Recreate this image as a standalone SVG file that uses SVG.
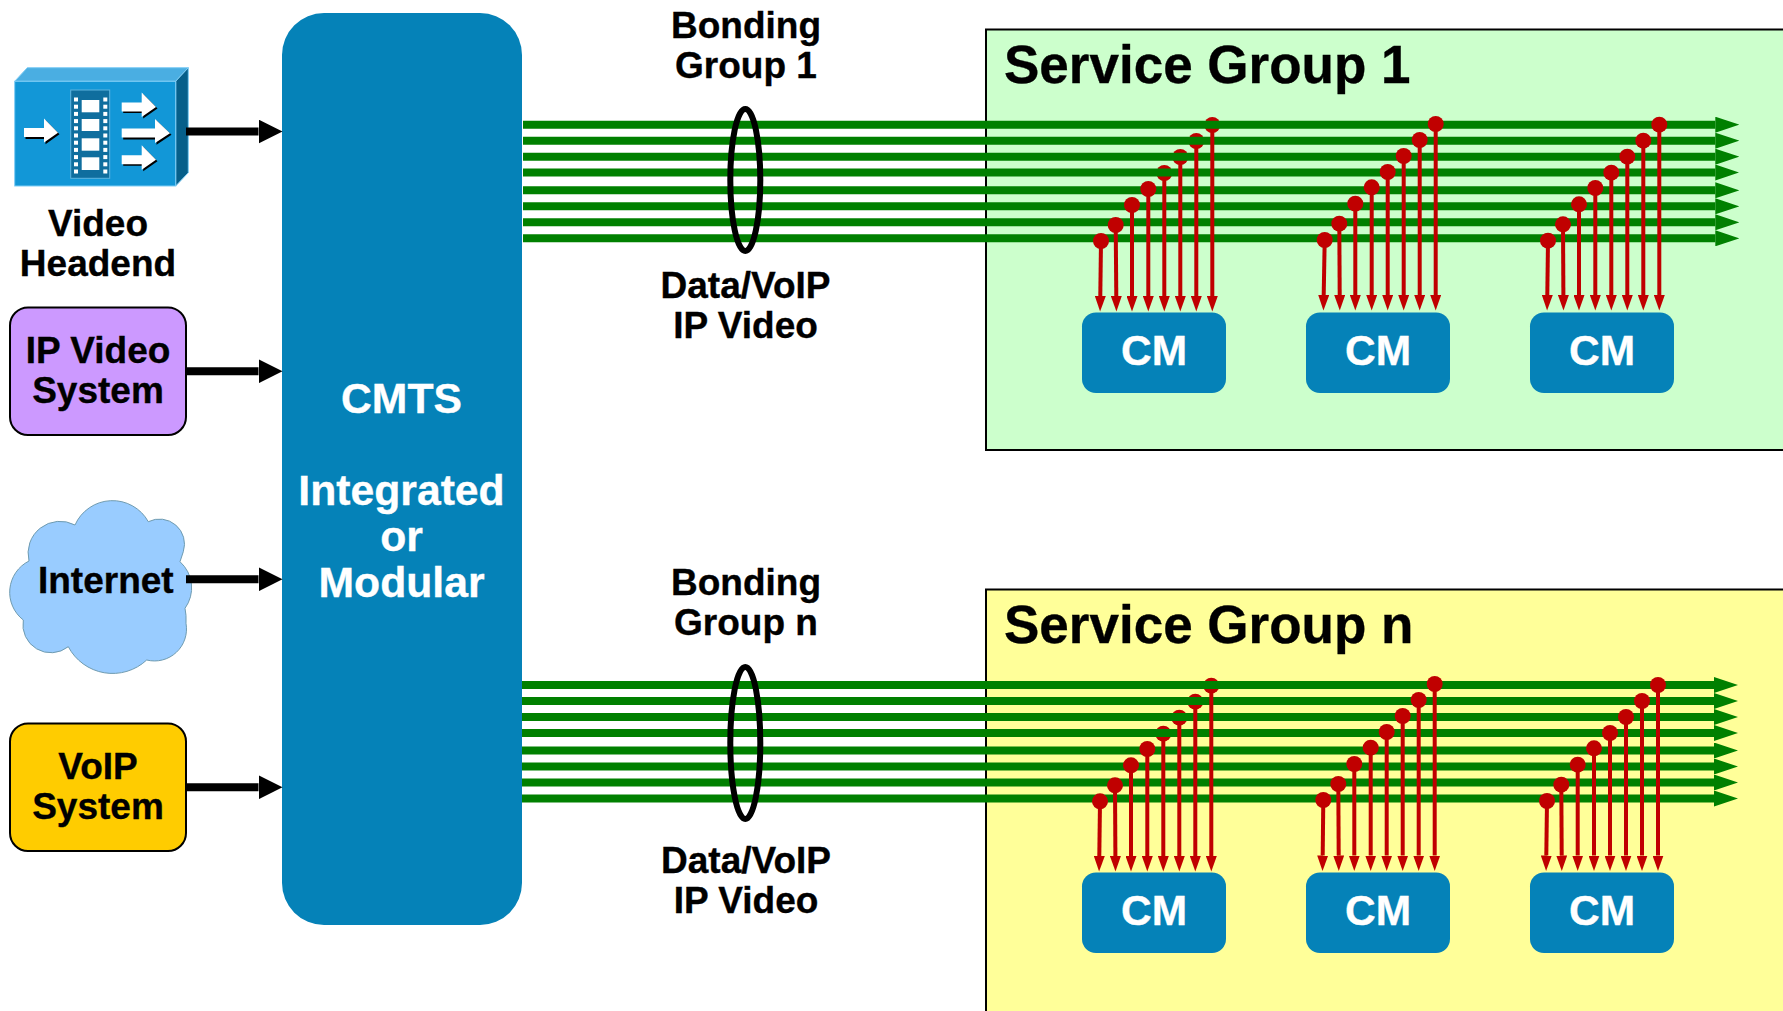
<svg xmlns="http://www.w3.org/2000/svg" width="1783" height="1011" viewBox="0 0 1783 1011">
<style>
text{font-family:"Liberation Sans",Arial,sans-serif;font-weight:bold;text-anchor:middle;fill:#000;stroke:#000;stroke-width:.35px}
.t36{font-size:37px}
.w{fill:#fff;stroke:#fff}
.t42{font-size:42.700px}
.cmt{font-size:42.500px}
.sg{font-size:53px;text-anchor:start}
.cmb{fill:#0582b8}
.g{stroke:#008000;stroke-width:8;fill:none;marker-end:url(#gh)}
.r{stroke:#c00000;stroke-width:4;fill:none;marker-end:url(#rh)}
.d{fill:#c00000}
.b{stroke:#000;stroke-width:8;fill:none;marker-end:url(#bh)}
.sgb{stroke:#000;stroke-width:2}
.box{stroke:#000;stroke-width:2}
.ell{fill:none;stroke:#000;stroke-width:6}
.hole{fill:#fff}
</style>
<defs>
<marker id="gh" markerUnits="userSpaceOnUse" markerWidth="24" markerHeight="16" refX="0" refY="8" orient="auto"><path d="M0 0L24 8L0 16Z" fill="#008000"/></marker>
<marker id="rh" markerUnits="userSpaceOnUse" markerWidth="16" markerHeight="11" refX="0" refY="5.500" orient="auto"><path d="M0 0L15.500 5.500L0 11Z" fill="#c00000"/></marker>
<marker id="bh" markerUnits="userSpaceOnUse" markerWidth="24" markerHeight="24" refX="0" refY="12" orient="auto"><path d="M0 0L24 12L0 24Z" fill="#000"/></marker>
</defs>
<rect width="1783" height="1011" fill="#fff"/>

<g id="service-group-1">
<rect class="sgb" x="986" y="29.500" width="810" height="420.500" fill="#ccffcc"/>
<text class="sg" x="1004" y="83">Service Group 1</text>
</g>
<g id="service-group-n">
<rect class="sgb" x="986" y="589.500" width="810" height="440" fill="#ffff99"/>
<text class="sg" x="1004" y="642.500">Service Group n</text>
</g>

<g id="video-headend">
<path d="M14.700 81.300L27.300 67.700H188.300L175.700 81.300Z" fill="#4aaee2" stroke="#7fcdf5" stroke-width="1"/>
<path d="M175.700 81.300L188.300 67.700V172.700L175.700 186Z" fill="#065f8a" stroke="#7fcdf5" stroke-width="1"/>
<rect x="14.700" y="81.300" width="161" height="104.700" fill="#1297d7" stroke="#7fcdf5" stroke-width="1"/>
<rect x="70.700" y="90" width="39" height="88.300" fill="#0f6e9e" stroke="#5fb4de" stroke-width="1"/>
<g class="hole">
<rect x="74" y="97.500" width="4" height="4"/><rect x="74" y="104.700" width="4" height="4"/><rect x="74" y="111.900" width="4" height="4"/><rect x="74" y="119.100" width="4" height="4"/><rect x="74" y="126.300" width="4" height="4"/><rect x="74" y="133.500" width="4" height="4"/><rect x="74" y="140.700" width="4" height="4"/><rect x="74" y="147.900" width="4" height="4"/><rect x="74" y="155.100" width="4" height="4"/><rect x="74" y="162.300" width="4" height="4"/><rect x="74" y="169.500" width="4" height="4"/>
<rect x="103.300" y="97.500" width="4" height="4"/><rect x="103.300" y="104.700" width="4" height="4"/><rect x="103.300" y="111.900" width="4" height="4"/><rect x="103.300" y="119.100" width="4" height="4"/><rect x="103.300" y="126.300" width="4" height="4"/><rect x="103.300" y="133.500" width="4" height="4"/><rect x="103.300" y="140.700" width="4" height="4"/><rect x="103.300" y="147.900" width="4" height="4"/><rect x="103.300" y="155.100" width="4" height="4"/><rect x="103.300" y="162.300" width="4" height="4"/><rect x="103.300" y="169.500" width="4" height="4"/>
<rect x="81.700" y="100" width="17.600" height="12.300"/><rect x="81.700" y="119" width="17.600" height="12"/><rect x="81.700" y="138.300" width="17.600" height="12.400"/><rect x="81.700" y="157.300" width="17.600" height="12.700"/>
</g>
<path d="M25.500 130H45.500V120L59.500 134.200L45.500 144.200V139H25.500Z" fill="#000"/>
<path d="M24 128H44V118.500L58 132.700L44 142.500V137H24Z" fill="#fff"/>
<path d="M123.200 104H143.200V94L157.500 108.500L143.200 118.500V113H123.200Z" fill="#000"/>
<path d="M121.700 102.500H141.700V92.500L156 107L141.700 117V111.500H121.700Z" fill="#fff"/>
<path d="M123.200 130.500H156.500V120.500L171.500 134.700L156.500 144.700V139.500H123.200Z" fill="#000"/>
<path d="M121.700 128.500H155V119L170 133.200L155 143V137.500H121.700Z" fill="#fff"/>
<path d="M123.200 156.700H143.200V146.700L157.500 161.200L143.200 171.200V165.700H123.200Z" fill="#000"/>
<path d="M121.700 155.200H141.700V145.200L156 159.700L141.700 169.700V164.200H121.700Z" fill="#fff"/>
<text class="t36" x="98" y="236">Video</text>
<text class="t36" x="98" y="276">Headend</text>
</g>

<g id="ip-video-system">
<rect class="box" x="10" y="307.500" width="176" height="127.500" rx="18" fill="#cc99ff"/>
<text class="t36" x="98" y="362.500">IP Video</text>
<text class="t36" x="98" y="402.500">System</text>
</g>

<g id="internet">
<path d="M75 525A41 41 0 0 1 148.300 521.700A25 25 0 0 1 183.300 551.700L180 561.700A35 35 0 0 1 185 608.300Q186.500 615 186 623.300A32 32 0 0 1 146.700 660A50 50 0 0 1 68.300 646.700A28 28 0 0 1 23.300 620A35 35 0 0 1 29 561A32 32 0 0 1 75 525Z" fill="#99ccff" stroke="#6f9bb0" stroke-width="1"/>
<text class="t36" x="105.800" y="593">Internet</text>
</g>

<g id="voip-system">
<rect class="box" x="10" y="723.500" width="176" height="127.500" rx="18" fill="#ffcc00"/>
<text class="t36" x="98" y="778.500">VoIP</text>
<text class="t36" x="98" y="818.500">System</text>
</g>

<g id="cmts">
<rect class="cmb" x="282" y="13" width="240" height="912" rx="42"/>
<text class="t42 w" x="401.500" y="412.500">CMTS</text>
<text class="t42 w" x="401.500" y="504.500">Integrated</text>
<text class="t42 w" x="401.500" y="550.500">or</text>
<text class="t42 w" x="401.500" y="596.500">Modular</text>
</g>

<g id="cm-1-1"><rect class="cmb" x="1082" y="312.500" width="144" height="80.500" rx="14"/><text class="cmt w" x="1154" y="365">CM</text></g>
<g id="cm-1-2"><rect class="cmb" x="1306" y="312.500" width="144" height="80.500" rx="14"/><text class="cmt w" x="1378" y="365">CM</text></g>
<g id="cm-1-3"><rect class="cmb" x="1530" y="312.500" width="144" height="80.500" rx="14"/><text class="cmt w" x="1602" y="365">CM</text></g>
<g id="cm-n-1"><rect class="cmb" x="1082" y="872.500" width="144" height="80.500" rx="14"/><text class="cmt w" x="1154" y="925">CM</text></g>
<g id="cm-n-2"><rect class="cmb" x="1306" y="872.500" width="144" height="80.500" rx="14"/><text class="cmt w" x="1378" y="925">CM</text></g>
<g id="cm-n-3"><rect class="cmb" x="1530" y="872.500" width="144" height="80.500" rx="14"/><text class="cmt w" x="1602" y="925">CM</text></g>

<g id="connectors">
<path class="b" d="M186 131.500H258.500"/>
<path class="b" d="M186 371.300H258.500"/>
<path class="b" d="M186 579.300H258.500"/>
<path class="b" d="M186 787.300H258.500"/>

<!-- dots lying beneath the channels -->
<circle class="d" cx="1212.300" cy="125" r="8"/><circle class="d" cx="1196.300" cy="141" r="8"/><circle class="d" cx="1180.300" cy="157" r="8"/><circle class="d" cx="1164.300" cy="173" r="8"/>
<circle class="d" cx="1211.300" cy="685.700" r="8"/><circle class="d" cx="1195.300" cy="701.700" r="8"/><circle class="d" cx="1179.300" cy="717.700" r="8"/><circle class="d" cx="1163.300" cy="733.700" r="8"/>

<!-- channels -->
<path class="g" d="M523 124.700H1715.300"/><path class="g" d="M523 140.700H1715.300"/><path class="g" d="M523 156.700H1715.300"/><path class="g" d="M523 172.500H1715.300"/><path class="g" d="M523 190.300H1715.300"/><path class="g" d="M523 206.300H1715.300"/><path class="g" d="M523 222.300H1715.300"/><path class="g" d="M523 238.300H1715.300"/>
<path class="g" d="M522 685H1714"/><path class="g" d="M522 701H1714"/><path class="g" d="M522 717H1714"/><path class="g" d="M522 733H1714"/><path class="g" d="M522 750.500H1714"/><path class="g" d="M522 766.500H1714"/><path class="g" d="M522 782.500H1714"/><path class="g" d="M522 798.500H1714"/>

<ellipse class="ell" cx="745.300" cy="180" rx="15" ry="71"/>
<ellipse class="ell" cx="745.300" cy="743" rx="15" ry="76"/>

<!-- drops: service group 1 -->
<path class="r" d="M1212.300 129V296"/><path class="r" d="M1196.300 145V296"/><path class="r" d="M1180.300 161V296"/><path class="r" d="M1164.300 177V296"/><path class="r" d="M1148.300 189V296"/><path class="r" d="M1132 205V296"/><path class="r" d="M1115.700 225L1116.300 296"/><path class="r" d="M1101 241L1100.300 296"/>
<circle class="d" cx="1148.300" cy="189" r="8"/><circle class="d" cx="1132" cy="205" r="8"/><circle class="d" cx="1115.700" cy="225" r="8"/><circle class="d" cx="1101" cy="241" r="8"/>

<path class="r" d="M1435.700 124V295"/><path class="r" d="M1419.700 140V295"/><path class="r" d="M1403.700 156V295"/><path class="r" d="M1387.700 172V295"/><path class="r" d="M1371.700 187.300V295"/><path class="r" d="M1355.300 203.700V295"/><path class="r" d="M1339.300 223.700L1339.700 295"/><path class="r" d="M1324.700 240L1323.700 295"/>
<circle class="d" cx="1435.700" cy="124" r="8"/><circle class="d" cx="1419.700" cy="140" r="8"/><circle class="d" cx="1403.700" cy="156" r="8"/><circle class="d" cx="1387.700" cy="172" r="8"/><circle class="d" cx="1371.700" cy="187.300" r="8"/><circle class="d" cx="1355.300" cy="203.700" r="8"/><circle class="d" cx="1339.300" cy="223.700" r="8"/><circle class="d" cx="1324.700" cy="240" r="8"/>

<path class="r" d="M1659.300 124.700V295"/><path class="r" d="M1643.300 140.700V295"/><path class="r" d="M1627.300 156.700V295"/><path class="r" d="M1611.300 172.700V295"/><path class="r" d="M1595.300 188V295"/><path class="r" d="M1579 204.300V295"/><path class="r" d="M1563 224.300L1563.400 295"/><path class="r" d="M1548 240.700L1547.300 295"/>
<circle class="d" cx="1659.300" cy="124.700" r="8"/><circle class="d" cx="1643.300" cy="140.700" r="8"/><circle class="d" cx="1627.300" cy="156.700" r="8"/><circle class="d" cx="1611.300" cy="172.700" r="8"/><circle class="d" cx="1595.300" cy="188" r="8"/><circle class="d" cx="1579" cy="204.300" r="8"/><circle class="d" cx="1563" cy="224.300" r="8"/><circle class="d" cx="1548" cy="240.700" r="8"/>

<!-- drops: service group n -->
<path class="r" d="M1211.300 689.700V856"/><path class="r" d="M1195.300 705.700V856"/><path class="r" d="M1179.300 721.700V856"/><path class="r" d="M1163.300 737.700V856"/><path class="r" d="M1147.300 749V856"/><path class="r" d="M1131 765.300V856"/><path class="r" d="M1115 785.300L1115.400 856"/><path class="r" d="M1100 801.300L1099.300 856"/>
<circle class="d" cx="1147.300" cy="749" r="8"/><circle class="d" cx="1131" cy="765.300" r="8"/><circle class="d" cx="1115" cy="785.300" r="8"/><circle class="d" cx="1100" cy="801.300" r="8"/>

<path class="r" d="M1434.700 684V855.500"/><path class="r" d="M1418.700 700V855.500"/><path class="r" d="M1402.700 716V855.500"/><path class="r" d="M1386.700 732V855.500"/><path class="r" d="M1370.700 747.700V855.500"/><path class="r" d="M1354.300 764V855.500"/><path class="r" d="M1338.300 784L1338.700 855.500"/><path class="r" d="M1323.300 800L1322.700 855.500"/>
<circle class="d" cx="1434.700" cy="684" r="8"/><circle class="d" cx="1418.700" cy="700" r="8"/><circle class="d" cx="1402.700" cy="716" r="8"/><circle class="d" cx="1386.700" cy="732" r="8"/><circle class="d" cx="1370.700" cy="747.700" r="8"/><circle class="d" cx="1354.300" cy="764" r="8"/><circle class="d" cx="1338.300" cy="784" r="8"/><circle class="d" cx="1323.300" cy="800" r="8"/>

<path class="r" d="M1658 685V855.500"/><path class="r" d="M1642 701V855.500"/><path class="r" d="M1626 717V855.500"/><path class="r" d="M1610 733V855.500"/><path class="r" d="M1594 748.300V855.500"/><path class="r" d="M1577.700 764.700V855.500"/><path class="r" d="M1561.300 784.700L1561.700 855.500"/><path class="r" d="M1547 801L1546.300 855.500"/>
<circle class="d" cx="1658" cy="685" r="8"/><circle class="d" cx="1642" cy="701" r="8"/><circle class="d" cx="1626" cy="717" r="8"/><circle class="d" cx="1610" cy="733" r="8"/><circle class="d" cx="1594" cy="748.300" r="8"/><circle class="d" cx="1577.700" cy="764.700" r="8"/><circle class="d" cx="1561.300" cy="784.700" r="8"/><circle class="d" cx="1547" cy="801" r="8"/>
</g>

<g id="labels">
<text class="t36" x="746" y="38">Bonding</text>
<text class="t36" x="746" y="78">Group 1</text>
<text class="t36" x="745.500" y="298">Data/VoIP</text>
<text class="t36" x="745.500" y="338">IP Video</text>
<text class="t36" x="746" y="594.500">Bonding</text>
<text class="t36" x="746" y="634.500">Group n</text>
<text class="t36" x="746" y="873">Data/VoIP</text>
<text class="t36" x="746" y="913">IP Video</text>
</g>
</svg>
